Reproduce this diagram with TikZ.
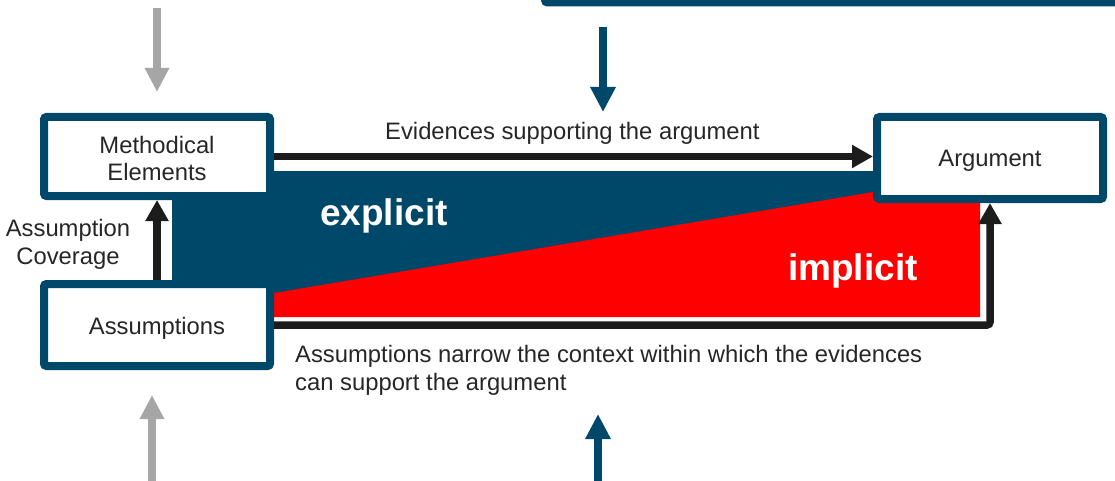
\documentclass[tikz,border=0pt]{standalone}
\usepackage{fontspec}
\setmainfont{Liberation Sans}
\usetikzlibrary{arrows.meta}
\definecolor{dblue}{HTML}{00486A}
\definecolor{txt}{HTML}{262626}
\definecolor{blk}{HTML}{1C1C1C}
\definecolor{gry}{HTML}{A6A6A6}
\begin{document}
\begin{tikzpicture}[x=1pt,y=-1pt,
  box/.style={draw=dblue, line width=8pt, fill=white, rounded corners=2.5pt, minimum width=226pt, inner sep=0pt, align=center, text=txt, font=\fontsize{23.8}{28}\selectfont, text height=18pt, text depth=0pt},
  lbl/.style={text=txt, inner sep=0pt, font=\fontsize{23.8}{28}\selectfont},
  big/.style={text=white, inner sep=0pt, font=\fontsize{37}{40}\selectfont\bfseries},
  conn/.style={draw=blk, line width=7.5pt, -{Triangle[length=21pt,width=22pt]}},
  garrow/.style={draw=gry, line width=8pt, -{Triangle[length=24pt,width=23pt]}},
  barrow/.style={draw=dblue, line width=8pt, -{Triangle[length=25pt,width=24pt]}}
]
\useasboundingbox (0,0) rectangle (1115,481);
% coloured regions
\fill[dblue] (172,171) rectangle (880,300);
\fill[red] (270,293.7) -- (980,174) -- (980,317) -- (270,317) -- cycle;
% boxes
\node[box, minimum height=79pt, text height=49pt, text depth=0pt] (meth) at (157,156.5) {Methodical\\Elements};
\node[box, minimum height=82pt] (ass) at (157,325) {Assumptions};
\node[box, minimum height=82pt] (arg) at (990,158) {Argument};
\node[box, minimum width=700pt, minimum height=100pt] (topbox) at (895,-47.5) {};
% connectors
\draw[conn] (meth.east) -- (meth.east -| arg.west);
\draw[conn, rounded corners=3pt] (ass.east) -| (arg.south);
\draw[conn] (ass.north) -- (meth.south);
% free arrows
\coordinate (g1s) at (157,8);
\coordinate (g1e) at (157,92);
\coordinate (g2s) at (152,481);
\coordinate (g2e) at (152,395);
\coordinate (b1s) at (603,27);
\coordinate (b1e) at (603,112);
\coordinate (b2s) at (598,481);
\coordinate (b2e) at (598,414);
\draw[garrow] (g1s) -- (g1e);
\draw[garrow] (g2s) -- (g2e);
\draw[barrow] (b1s) -- (b1e);
\draw[barrow] (b2s) -- (b2e);
% labels
\node[lbl, anchor=base west] (ev) at (385,140) {Evidences supporting the argument};
\node[lbl, anchor=north, align=center] (cov) at (68,219) {Assumption\\Coverage};
\node[lbl, anchor=north west, align=left] (nar) at (295,345) {Assumptions narrow the context within which the evidences\\can support the argument};
\node[big, anchor=base west] (expl) at (320,225) {explicit};
\node[big, anchor=base west] (impl) at (788,280) {implicit};
\end{tikzpicture}
\end{document}
